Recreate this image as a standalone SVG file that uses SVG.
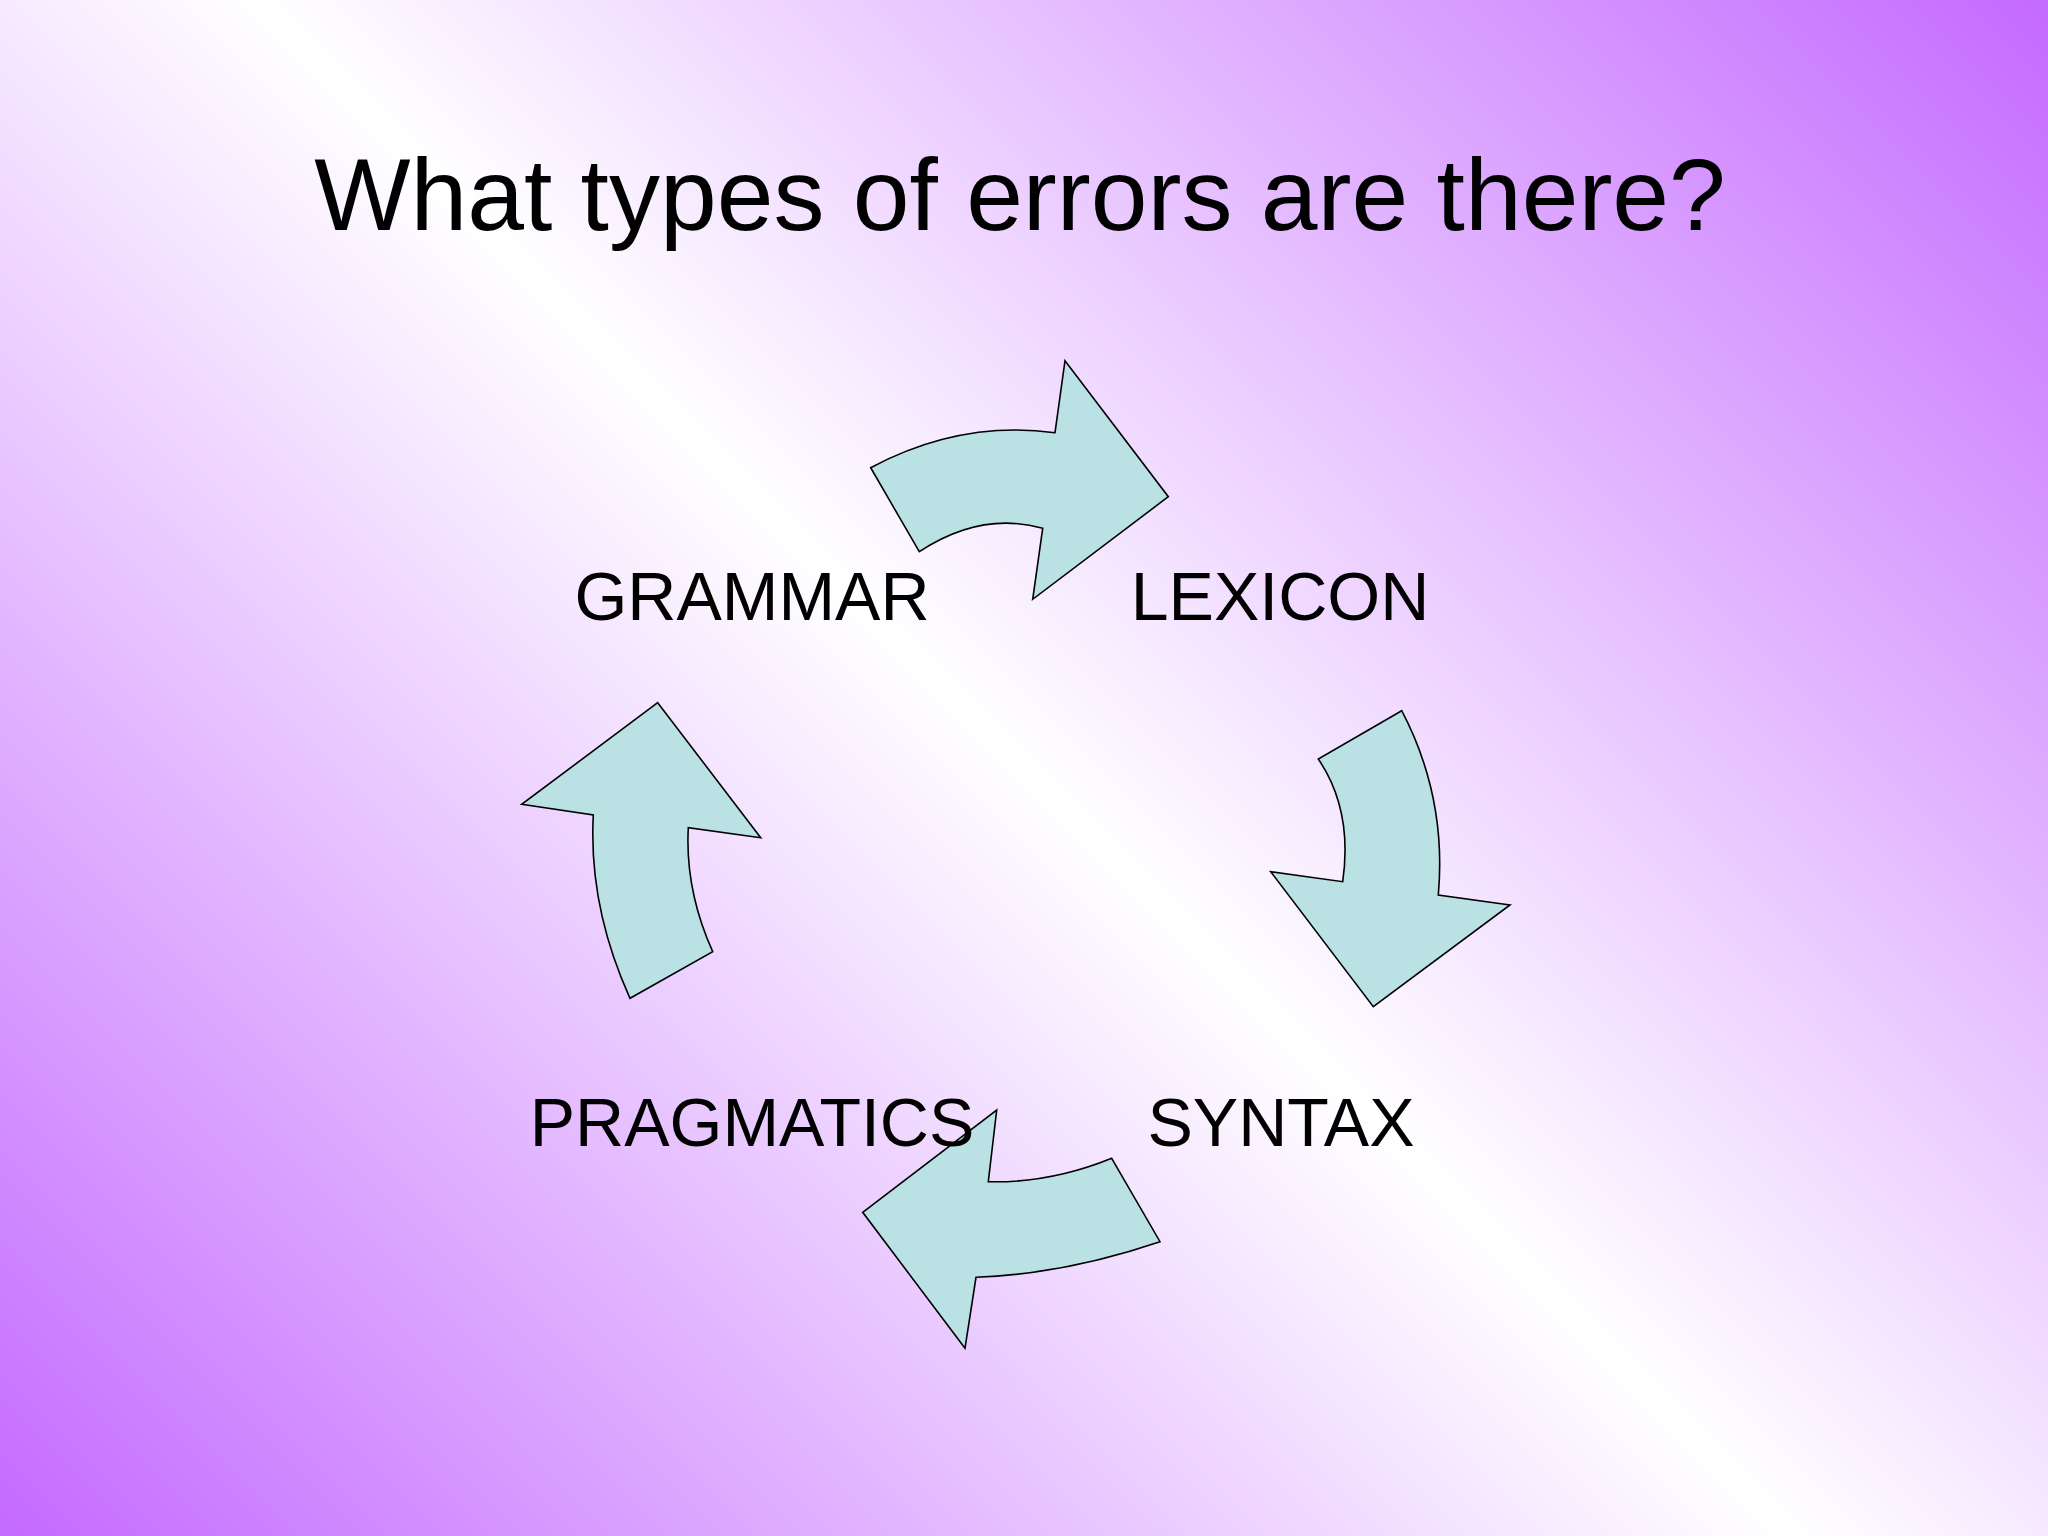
<svg xmlns="http://www.w3.org/2000/svg" width="2048" height="1536" viewBox="0 0 2048 1536">
  <defs>
    <linearGradient id="bg" gradientUnits="userSpaceOnUse" x1="128" y1="1664" x2="1920" y2="-128">
      <stop offset="0" stop-color="#c46aff"/>
      <stop offset="0.5" stop-color="#ffffff"/>
      <stop offset="1" stop-color="#c46aff"/>
    </linearGradient>
    <style>
      .arrow { fill: #bae1e3; stroke: #000000; stroke-width: 1.6; stroke-linejoin: miter; }
      .label { font-family: "Liberation Sans", Arial, sans-serif; font-size: 68px; fill: #000000; text-anchor: middle; }
      .title { font-family: "Liberation Sans", Arial, sans-serif; font-size: 102px; fill: #000000; text-anchor: middle; }
    </style>
  </defs>
  <rect x="0" y="0" width="2048" height="1536" fill="url(#bg)"/>
  <text class="title" x="1020" y="230">What types of errors are there?</text>
  <g id="connectors">
    <path id="arrow-grammar-lexicon" class="arrow" d="M870.7,467.7 Q960,420 1055,432.7 L1065,360.7 L1168.3,496.7 L1032.7,599.3 L1042.7,528.3 Q981,511 919.3,551.7 Z"/>
    <path id="arrow-lexicon-syntax" class="arrow" d="M1401.7,710.7 L1318.3,759 Q1353,810 1342.7,881.7 L1270.7,871.7 L1373.3,1006.7 L1510,905 L1438.3,895 Q1447,797 1401.7,710.7 Z"/>
    <path id="arrow-syntax-pragmatics" class="arrow" d="M1111.7,1158.3 L1160,1241.7 Q1065.4,1273.9 976,1277.3 L965,1348.3 L862.7,1212.3 L996.7,1110 L988.3,1181.7 Q1050,1183.4 1111.7,1158.3 Z"/>
    <path id="arrow-pragmatics-grammar" class="arrow" d="M657.7,702.7 L760.7,837.7 L688.3,827.7 Q684.9,889.7 712.7,951.7 L630,998.3 Q588.4,906.7 593.3,815 L521.7,804.3 Z"/>
  </g>
  <g id="node-grammar"><text class="label" x="752" y="620">GRAMMAR</text></g>
  <g id="node-lexicon"><text class="label" x="1280" y="620">LEXICON</text></g>
  <g id="node-syntax"><text class="label" x="1281" y="1146">SYNTAX</text></g>
  <g id="node-pragmatics"><text class="label" x="752" y="1146">PRAGMATICS</text></g>
</svg>
